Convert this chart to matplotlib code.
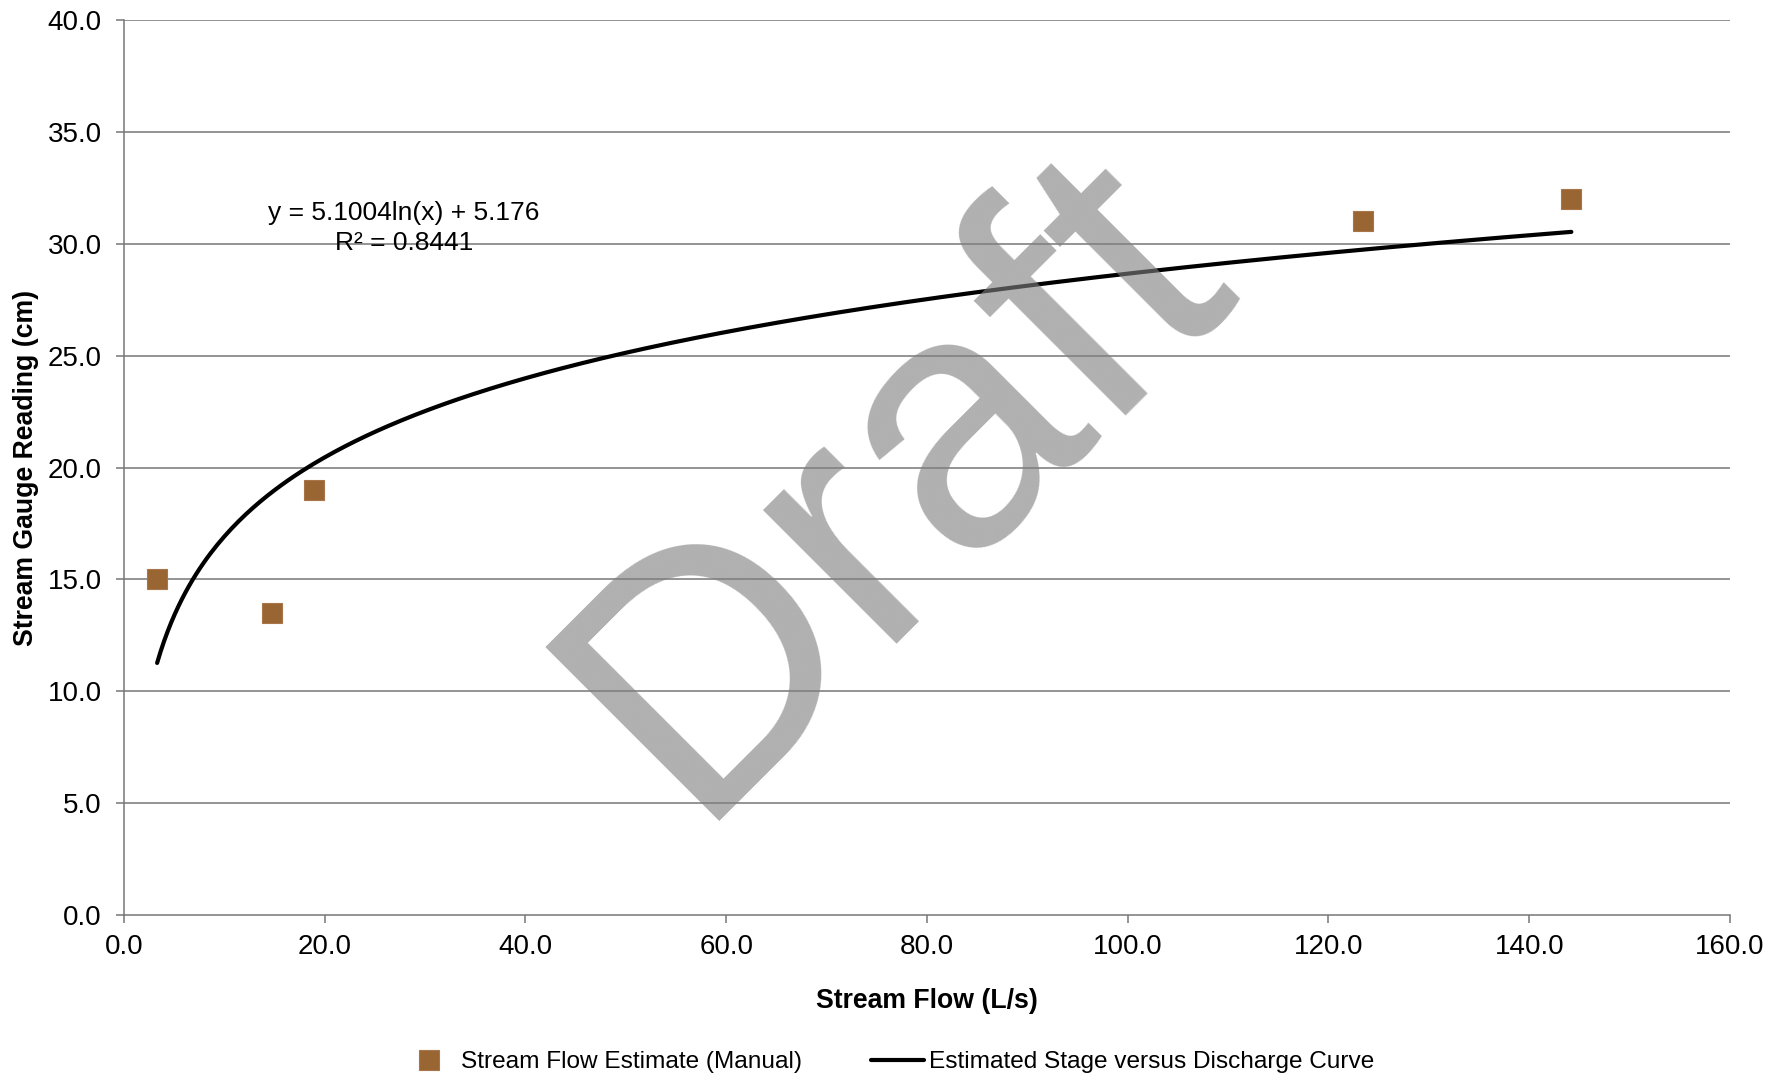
import numpy as np
import matplotlib
matplotlib.use('Agg')
import matplotlib.pyplot as plt
from matplotlib.ticker import FormatStrFormatter

# manual stream flow measurements
flow = [3.3, 14.7, 18.9, 123.4, 144.2]
gauge = [15.0, 13.5, 19.0, 31.0, 32.0]

# log trendline from the chart: y = a ln(x) + b
coef_a = 5.1004
coef_b = 5.176
r2 = 0.8441

plt.rcParams['font.family'] = ['Liberation Sans', 'DejaVu Sans']

fig = plt.figure(figsize=(17.84, 10.76), dpi=100)
ax = fig.add_axes([0.0695, 0.1496, 0.9002, 0.8318])

grid_c = '#777777'
for y in np.arange(5, 41, 5):
    ax.axhline(y, color=grid_c, lw=1.1, zorder=1)

xc = np.linspace(min(flow), max(flow), 400)
yc = coef_a * np.log(xc) + coef_b
ax.plot(flow, gauge, 's', color='#996633', markeredgecolor='#a8754a',
        markersize=15, markeredgewidth=0.8, zorder=3,
        label='Stream Flow Estimate (Manual)')
ax.plot(xc, yc, color='black', lw=3.0, solid_capstyle='round', zorder=3,
        label='Estimated Stage versus Discharge Curve')

ax.text(27.9, 30.72, 'y = %.4fln(x) + %.3f\nR² = %.4f' % (coef_a, coef_b, r2),
        ha='center', va='center', fontsize=19, linespacing=1.3, zorder=4)

ax.set_xlim(0, 160)
ax.set_ylim(0, 40)
ax.set_xticks(np.arange(0, 161, 20))
ax.set_yticks(np.arange(0, 41, 5))
ax.xaxis.set_major_formatter(FormatStrFormatter('%.1f'))
ax.yaxis.set_major_formatter(FormatStrFormatter('%.1f'))
ax.tick_params(axis='both', direction='out', length=6, width=1.1, color=grid_c,
               labelsize=20, colors='black')
ax.tick_params(axis='y', pad=10)
ax.tick_params(axis='x', pad=8)
ax.tick_params(axis='both', color=grid_c)
for s in ['top', 'right']:
    ax.spines[s].set_visible(False)
for s in ['left', 'bottom']:
    ax.spines[s].set_color(grid_c)
    ax.spines[s].set_linewidth(1.1)

ax.set_xlabel('Stream Flow (L/s)', fontsize=19.2, fontweight='bold')
ax.set_ylabel('Stream Gauge Reading (cm)', fontsize=19.2, fontweight='bold')
ax.xaxis.set_label_coords(0.5, -0.081)
ax.yaxis.set_label_coords(-0.053, 0.5)

# watermark
fig.text(0.387, 0.237, 'Draft', fontsize=256, color='#808080', alpha=0.62,
         rotation=45, rotation_mode='anchor', ha='left', va='baseline', zorder=10)

fig.legend(loc='lower center', bbox_to_anchor=(0.498, -0.018), ncol=2, frameon=False,
           fontsize=17.6, handlelength=2.2, handletextpad=0.2, columnspacing=2.8)

fig.savefig('out.png', dpi=100)
